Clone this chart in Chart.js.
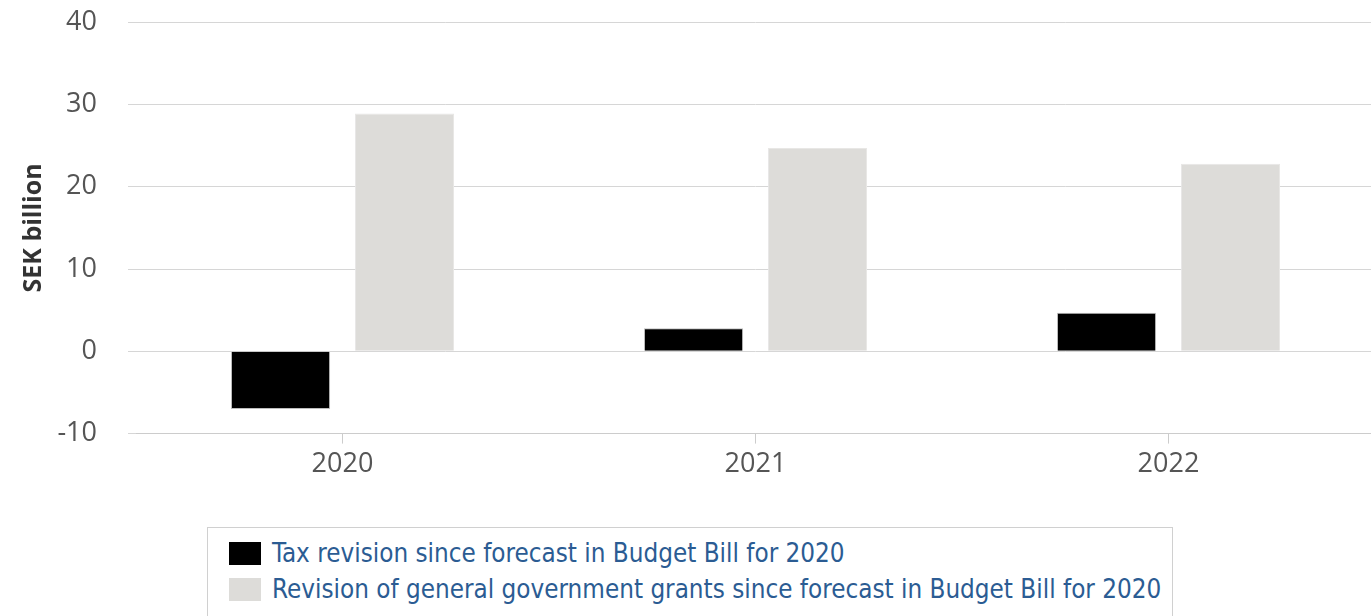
<!DOCTYPE html>
<html>
<head>
<meta charset="utf-8">
<script src="https://cdn.jsdelivr.net/npm/chart.js@4"></script>
<style>
  html, body { margin: 0; padding: 0; background: #fff; overflow: hidden; width: 1371px; height: 616px; }
  #wrap { position: absolute; left: 0; top: -25px; width: 1380px; height: 511px; }
  #legend { position: absolute; left: 207px; top: 527px; width: 966px; height: 120px; border: 1px solid #d0d0d0; box-sizing: border-box; }
  .item { position: absolute; left: 21px; display: flex; align-items: center; font-family: "DejaVu Sans Condensed", "DejaVu Sans", sans-serif; font-size: 25.8px; color: #2b5c93; white-space: nowrap; }
  .sw { width: 32px; height: 23px; margin-right: 11px; box-sizing: border-box; }
</style>
</head>
<body>
<div id="wrap"><canvas id="c"></canvas></div>
<div id="legend"></div>
<script>
const categories = ["2020", "2021", "2022"];
const seriesNames = [
  "Tax revision since forecast in Budget Bill for 2020",
  "Revision of general government grants since forecast in Budget Bill for 2020"
];
const taxRevision = [-7, 2.8, 4.7];
const grantsRevision = [28.9, 24.7, 22.8];
const seriesColors = ["#000000", "#dddcd9"];
const yTicks = [-10, 0, 10, 20, 30, 40];
const yTitle = "SEK billion";

const chart = new Chart(document.getElementById('c'), {
  type: 'bar',
  data: {
    labels: categories,
    datasets: [
      { label: seriesNames[0], data: taxRevision, backgroundColor: seriesColors[0], borderColor: '#bdbdbd', borderWidth: 1, categoryPercentage: 0.6, barPercentage: 0.8 },
      { label: seriesNames[1], data: grantsRevision, backgroundColor: seriesColors[1], borderColor: '#e8e7e5', borderWidth: 1, categoryPercentage: 0.6, barPercentage: 0.8 }
    ]
  },
  options: {
    responsive: true,
    maintainAspectRatio: false,
    animation: false,
    layout: { padding: { top: 0, right: 5, left: 0, bottom: 0 } },
    plugins: { legend: { display: false }, tooltip: { enabled: false } },
    scales: {
      x: {
        grid: { offset: false, drawOnChartArea: false, drawTicks: true, tickLength: 10, color: '#cccccc' },
        border: { display: true, color: '#cccccc' },
        ticks: { color: '#555555', font: { family: 'Open Sans', size: 27 }, padding: 5 }
      },
      y: {
        min: yTicks[0], max: yTicks[yTicks.length - 1],
        afterBuildTicks: (s) => { s.ticks = yTicks.map(v => ({ value: v })); },
        afterFit: (s) => { s.width = 136; },
        grid: { color: '#d6d6d6', drawTicks: true, tickLength: 8 },
        border: { display: false },
        ticks: { color: '#555555', font: { family: 'Open Sans', size: 27 }, padding: 31 },
        title: { display: true, text: yTitle, color: '#333333', font: { family: 'Open Sans', size: 25, weight: 'bold' }, padding: { top: 19, bottom: 0 } }
      }
    }
  }
});

const legend = document.getElementById('legend');
seriesNames.forEach((name, i) => {
  const it = document.createElement('div');
  it.className = 'item';
  it.style.top = (10 + i * 36) + 'px';
  const sw = document.createElement('span');
  sw.className = 'sw';
  sw.style.background = seriesColors[i];
  const t = document.createElement('span');
  t.textContent = name;
  it.appendChild(sw); it.appendChild(t);
  legend.appendChild(it);
});
</script>
</body>
</html>
